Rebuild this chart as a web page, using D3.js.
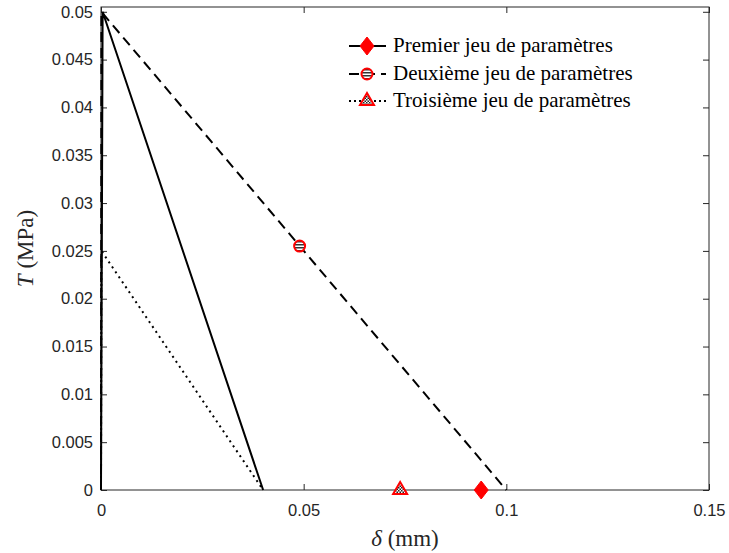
<!DOCTYPE html>
<meta charset="utf-8">
<title>Loi cohésive</title>
<style>
body { margin: 0; background: #fff; }
.tick text { font-family: "Liberation Sans", Arial, sans-serif; font-size: 16.5px; fill: #262626; }
.axis path, .axis line { stroke: #262626; }
.lbl { font-family: "Liberation Serif", "DejaVu Serif", serif; font-size: 23px; fill: #262626; }
.leg { font-family: "Liberation Serif", "DejaVu Serif", serif; font-size: 21px; fill: #000; }
</style>
<body>
<script src="https://d3js.org/d3.v7.min.js"></script>
<script>

// data (delta in mm, T in MPa)
var premierX = [0, 0.0004, 0.04];
var premierY = [0, 0.05, 0];
var deuxiemeX = [0, 0.0001, 0.1];
var deuxiemeY = [0, 0.05, 0];
var troisiemeX = [0, 0.0001, 0.04];
var troisiemeY = [0, 0.025, 0];

// marker positions
var markerPremier = [0.0938, 0];
var markerDeuxieme = [0.049, 0.0255];
var markerTroisieme = [0.0738, 0];

var legendLabels = ["Premier jeu de paramètres", "Deuxième jeu de paramètres", "Troisième jeu de paramètres"];
var xTicks = [0, 0.05, 0.1, 0.15];
var yTicks = [0, 0.005, 0.01, 0.015, 0.02, 0.025, 0.03, 0.035, 0.04, 0.045, 0.05];

var W = 729, H = 553;
var margin = {top: 7, right: 20, bottom: 63, left: 101},
    width = W - margin.left - margin.right,
    height = H - margin.top - margin.bottom;

var svg = d3.select("body").append("svg")
    .attr("width", W)
    .attr("height", H);

// patterns for the marker fills
var defs = svg.append("defs");
var stripes = defs.append("pattern")
    .attr("id", "stripes")
    .attr("patternUnits", "userSpaceOnUse")
    .attr("width", 4).attr("height", 3);
stripes.append("rect").attr("width", 4).attr("height", 3).attr("fill", "#fff");
stripes.append("rect").attr("width", 4).attr("height", 1.5).attr("fill", "#333");

var checks = defs.append("pattern")
    .attr("id", "checks")
    .attr("patternUnits", "userSpaceOnUse")
    .attr("width", 3).attr("height", 3);
checks.append("rect").attr("width", 3).attr("height", 3).attr("fill", "#fff");
checks.append("rect").attr("width", 1.5).attr("height", 1.5).attr("fill", "#222");
checks.append("rect").attr("x", 1.5).attr("y", 1.5).attr("width", 1.5).attr("height", 1.5).attr("fill", "#222");

var g = svg.append("g")
    .attr("transform", "translate(" + margin.left + "," + margin.top + ")");

var x = d3.scaleLinear().domain([0, 0.15]).range([0, width]);
var y = d3.scaleLinear().domain([0, 0.0505]).range([height, 0]);

// box
g.append("rect")
    .attr("width", width).attr("height", height)
    .attr("fill", "none").attr("stroke", "#262626").attr("stroke-width", 1);

var fmt = function(d) { return d === 0 ? "0" : String(+d.toFixed(3)); };

g.append("g").attr("class", "axis")
    .attr("transform", "translate(0," + height + ")")
    .call(d3.axisBottom(x).tickValues(xTicks).tickFormat(fmt).tickSizeInner(-6).tickSizeOuter(0).tickPadding(14))
    .call(function(s) { s.select(".domain").remove(); });
g.append("g").attr("class", "axis")
    .call(d3.axisTop(x).tickValues(xTicks).tickFormat("").tickSizeInner(-6).tickSizeOuter(0))
    .call(function(s) { s.select(".domain").remove(); });
g.append("g").attr("class", "axis")
    .call(d3.axisLeft(y).tickValues(yTicks).tickFormat(fmt).tickSizeInner(-6).tickSizeOuter(0).tickPadding(8))
    .call(function(s) { s.select(".domain").remove(); });
g.append("g").attr("class", "axis")
    .attr("transform", "translate(" + width + ",0)")
    .call(d3.axisRight(y).tickValues(yTicks).tickFormat("").tickSizeInner(-6).tickSizeOuter(0))
    .call(function(s) { s.select(".domain").remove(); });

// curves
var line = d3.line().x(function(d) { return x(d[0]); }).y(function(d) { return y(d[1]); });
function pts(xs, ys) { return xs.map(function(v, i) { return [v, ys[i]]; }); }

g.append("path").attr("d", line(pts(premierX, premierY)))
    .attr("fill", "none").attr("stroke", "#000").attr("stroke-width", 2);
g.append("path").attr("d", line(pts(deuxiemeX, deuxiemeY)))
    .attr("fill", "none").attr("stroke", "#000").attr("stroke-width", 2)
    .attr("stroke-dasharray", "10,6");
g.append("path").attr("d", line(pts(troisiemeX, troisiemeY)))
    .attr("fill", "none").attr("stroke", "#000").attr("stroke-width", 2)
    .attr("stroke-dasharray", "2,4");

// marker drawing
function diamond(sel, cx, cy) {
  sel.append("path")
      .attr("d", "M" + cx + "," + (cy - 9) + "L" + (cx + 7) + "," + cy + "L" + cx + "," + (cy + 9) + "L" + (cx - 7) + "," + cy + "Z")
      .attr("fill", "#ff0000").attr("stroke", "#ff0000").attr("stroke-width", 1);
}
function circ(sel, cx, cy) {
  sel.append("circle").attr("cx", cx).attr("cy", cy).attr("r", 5.5)
      .attr("fill", "url(#stripes)").attr("stroke", "#ff0000").attr("stroke-width", 2);
}
function tri(sel, cx, cy) {
  sel.append("path")
      .attr("d", "M" + cx + "," + (cy - 7) + "L" + (cx + 7) + "," + (cy + 5) + "L" + (cx - 7) + "," + (cy + 5) + "Z")
      .attr("fill", "url(#checks)").attr("stroke", "#ff0000").attr("stroke-width", 2);
}

diamond(g, x(markerPremier[0]), y(markerPremier[1]));
circ(g, x(markerDeuxieme[0]), y(markerDeuxieme[1]));
tri(g, x(markerTroisieme[0]), y(markerTroisieme[1]) - 1);

// axis labels
svg.append("text").attr("class", "lbl")
    .attr("x", margin.left + width / 2).attr("y", 546)
    .attr("text-anchor", "middle")
    .html('<tspan font-style="italic">δ</tspan> (mm)');
svg.append("text").attr("class", "lbl")
    .attr("transform", "translate(33," + (margin.top + height / 2) + ") rotate(-90)")
    .attr("text-anchor", "middle")
    .html('<tspan font-style="italic">T</tspan> (MPa)');

// legend
var legY = [46, 74, 101];
var dashes = [null, "10,6", "2,3"];
var markers = [diamond, circ, tri];
legendLabels.forEach(function(lab, i) {
  var ly = legY[i];
  var l = svg.append("line").attr("x1", 349).attr("x2", 386).attr("y1", ly).attr("y2", ly)
      .attr("stroke", "#000").attr("stroke-width", 2);
  if (dashes[i]) l.attr("stroke-dasharray", dashes[i]);
  markers[i](svg, 367, i === 2 ? ly - 1 : ly);
  svg.append("text").attr("class", "leg").attr("x", 393).attr("y", ly + 6).text(lab);
});

</script>
</body>
